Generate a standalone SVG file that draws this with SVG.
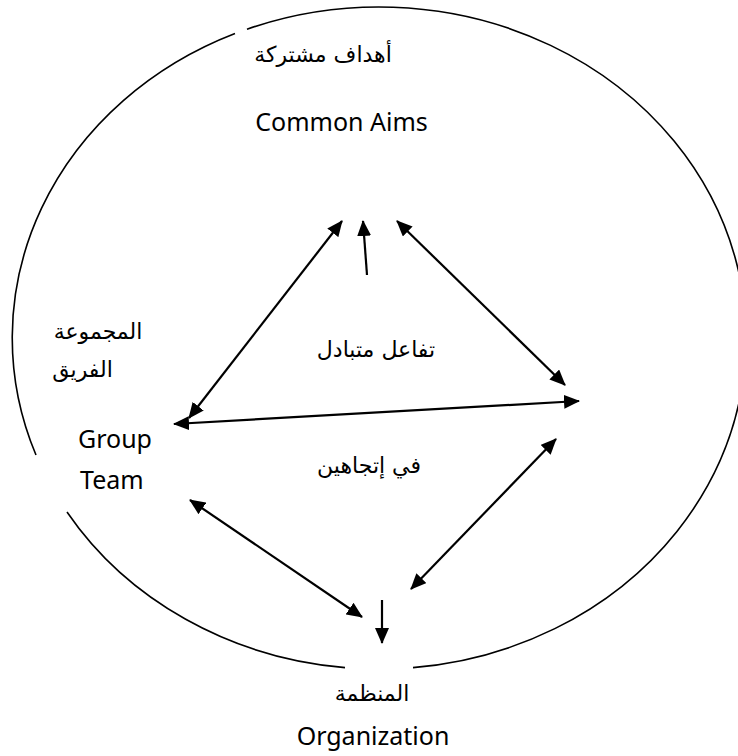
<svg xmlns="http://www.w3.org/2000/svg" width="738" height="756" viewBox="0 0 738 756">
  <defs>
    <marker id="ah" markerUnits="userSpaceOnUse" markerWidth="16" markerHeight="14" refX="15" refY="7" orient="auto-start-reverse">
      <path d="M0,0 L16,7 L0,14 z" fill="#000"/>
    </marker>
    <style>
      .ring { fill: none; stroke: #000; stroke-width: 1.6; }
      .conn line { stroke: #000; stroke-width: 2.2; }
      .en { font-family: "Noto Sans", "Open Sans", sans-serif; font-size: 25px; fill: #000; }
      .ar { font-family: "DejaVu Sans", sans-serif; font-size: 22px; fill: #000; }
    </style>
  </defs>
  <rect width="738" height="756" fill="#fff"/>

  <g id="boundary">
    <path class="ring" d="M247,29.2 A367,331 0 1 1 413,667.6"/>
    <path class="ring" d="M345,667.6 A367,331 0 0 1 67,512"/>
    <path class="ring" d="M36,455 A367,331 0 0 1 235,33.5"/>
  </g>

  <g id="connectors" class="conn">
    <line x1="342" y1="221" x2="189" y2="418" marker-start="url(#ah)" marker-end="url(#ah)"/>
    <line x1="367" y1="275" x2="363" y2="221" marker-end="url(#ah)"/>
    <line x1="397" y1="221" x2="565" y2="385" marker-start="url(#ah)" marker-end="url(#ah)"/>
    <line x1="174" y1="424" x2="579" y2="401" marker-start="url(#ah)" marker-end="url(#ah)"/>
    <line x1="190" y1="500" x2="362" y2="617" marker-start="url(#ah)" marker-end="url(#ah)"/>
    <line x1="556" y1="439" x2="411" y2="589" marker-start="url(#ah)" marker-end="url(#ah)"/>
    <line x1="382" y1="600" x2="382" y2="643" marker-end="url(#ah)"/>
  </g>

  <g id="node-aims">
    <text class="ar" x="323" y="62" text-anchor="middle">أهداف مشتركة</text>
    <text class="en" x="341.5" y="131" text-anchor="middle">Common Aims</text>
  </g>

  <g id="node-group">
    <text class="ar" x="98" y="339" text-anchor="middle">المجموعة</text>
    <text class="ar" x="82.5" y="377" text-anchor="middle">الفريق</text>
    <text class="en" x="78" y="448">Group</text>
    <text class="en" x="80" y="489">Team</text>
  </g>

  <g id="label-interaction">
    <text class="ar" x="376" y="357" text-anchor="middle">تفاعل متبادل</text>
    <text class="ar" x="369" y="473" text-anchor="middle">في إتجاهين</text>
  </g>

  <g id="node-organization">
    <text class="ar" x="372" y="701" text-anchor="middle">المنظمة</text>
    <text class="en" x="373" y="745" text-anchor="middle">Organization</text>
  </g>
</svg>
